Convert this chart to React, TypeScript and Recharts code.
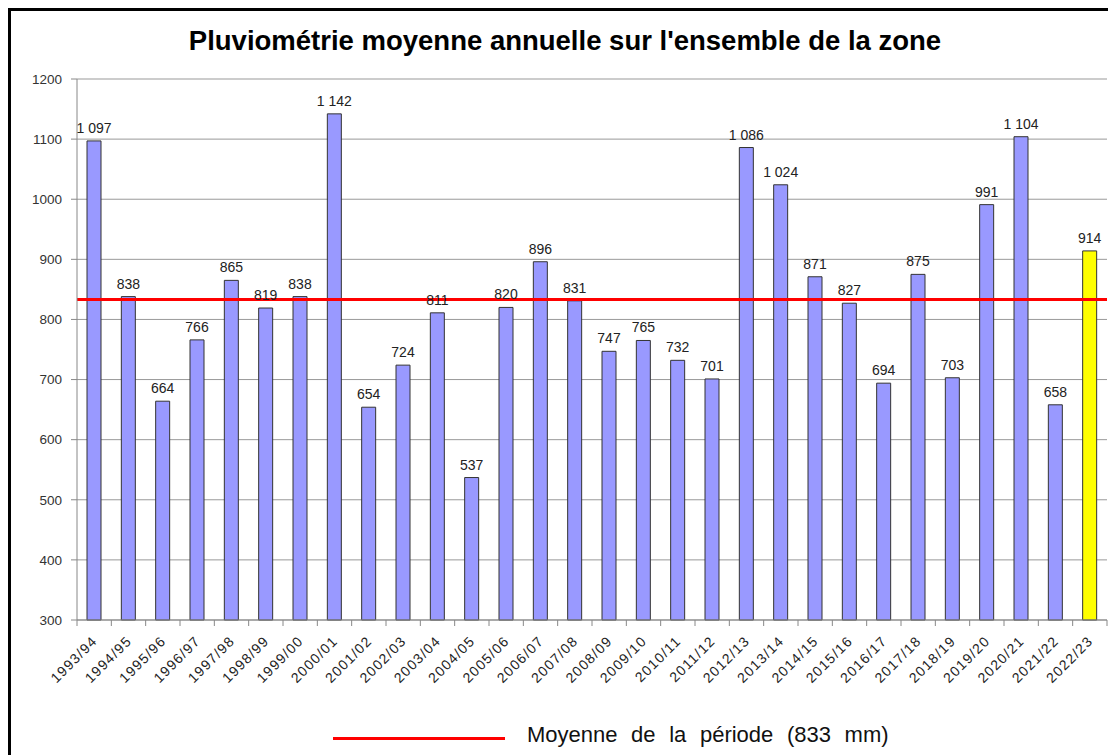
import { BarChart, Bar, XAxis, YAxis, CartesianGrid, ReferenceLine, LabelList, Cell } from "recharts";

const seasons = [
  "1993/94", "1994/95", "1995/96", "1996/97", "1997/98", "1998/99", "1999/00", "2000/01",
  "2001/02", "2002/03", "2003/04", "2004/05", "2005/06", "2006/07", "2007/08", "2008/09",
  "2009/10", "2010/11", "2011/12", "2012/13", "2013/14", "2014/15", "2015/16", "2016/17",
  "2017/18", "2018/19", "2019/20", "2020/21", "2021/22", "2022/23",
];

const rainfall = [
  1097, 838, 664, 766, 865, 819, 838, 1142, 654, 724, 811, 537, 820, 896, 831, 747,
  765, 732, 701, 1086, 1024, 871, 827, 694, 875, 703, 991, 1104, 658, 914,
];

const yTicks = [300, 400, 500, 600, 700, 800, 900, 1000, 1100, 1200];
const periodMean = 833;

const data = seasons.map((s, i) => ({ name: s, value: rainfall[i] }));

const FONT = "Arial, 'Liberation Sans', sans-serif";

// thousands separated by a non-breaking space so the label stays on one line
const fmt = (v: any) => {
  const n = Number(v);
  if (n >= 1000) return `${Math.floor(n / 1000)}\u00a0${String(n % 1000).padStart(3, "0")}`;
  return String(n);
};

const XTick = (props: any) => {
  const { x, y, payload, index } = props;
  const half = payload?.offset || 17;
  const tx = x + 4;
  const ty = y + 22;
  return (
    <g>
      <line x1={x - half} x2={x - half} y1={y} y2={y + 6} stroke="#888" />
      {index === seasons.length - 1 && (
        <line x1={x + half} x2={x + half} y1={y} y2={y + 6} stroke="#888" />
      )}
      <text
        x={tx}
        y={ty}
        transform={`rotate(-45, ${tx}, ${ty})`}
        textAnchor="end"
        fontSize={14}
        letterSpacing={1.2}
        fill="#222"
        fontFamily={FONT}
      >
        {payload.value}
      </text>
    </g>
  );
};

export default function App() {
  return (
    <div style={{ position: "relative", width: 1108, height: 747, overflow: "hidden", fontFamily: FONT }}>
      <div
        style={{
          position: "absolute",
          left: 0,
          top: 0,
          width: 1200,
          height: 800,
          border: "3px solid #000",
          boxSizing: "border-box",
        }}
      />
      <div
        style={{
          position: "absolute",
          left: 0,
          top: 19,
          width: 1114,
          textAlign: "center",
          fontSize: 27.5,
          lineHeight: "28px",
          fontWeight: "bold",
          color: "#000",
        }}
      >
        Pluviométrie moyenne annuelle sur l'ensemble de la zone
      </div>
      <div style={{ position: "absolute", left: 3, top: 3 }}>
        <BarChart
          width={1100}
          height={700}
          data={data}
          margin={{ top: 68, right: 4, left: 0, bottom: 11 }}
          barSize={14}
        >
          <CartesianGrid vertical={false} stroke="#999" />
          <XAxis
            dataKey="name"
            interval={0}
            height={80}
            tickLine={false}
            tickSize={0}
            tickMargin={0}
            axisLine={{ stroke: "#888" }}
            tick={<XTick />}
          />
          <YAxis
            domain={[300, 1200]}
            ticks={yTicks}
            width={66}
            tickSize={6}
            tickMargin={9}
            tickLine={{ stroke: "#888" }}
            axisLine={{ stroke: "#888" }}
            tick={{ fill: "#333", fontSize: 13.5, fontFamily: FONT }}
          />
          <YAxis
            yAxisId="right"
            orientation="right"
            domain={[300, 1200]}
            width={0}
            tick={false}
            tickLine={false}
            axisLine={{ stroke: "#ccc" }}
          />
          <Bar dataKey="value" stroke="#333" strokeWidth={1} isAnimationActive={false}>
            {data.map((d, i) => (
              <Cell key={d.name} fill={i === data.length - 1 ? "#ffff00" : "#9999ff"} />
            ))}
            <LabelList
              dataKey="value"
              position="top"
              offset={8}
              formatter={fmt}
              fill="#222"
              fontSize={14}
              fontFamily={FONT}
            />
          </Bar>
          <ReferenceLine y={periodMean} stroke="#ff0000" strokeWidth={3} />
        </BarChart>
      </div>
      <div
        style={{
          position: "absolute",
          left: 325,
          top: 729,
          width: 172,
          height: 3,
          background: "#ff0000",
        }}
      />
      <div
        style={{
          position: "absolute",
          left: 519,
          top: 716,
          fontSize: 22,
          lineHeight: "22px",
          wordSpacing: 7.5,
          color: "#111",
          whiteSpace: "nowrap",
        }}
      >
        Moyenne de la période ({periodMean} mm)
      </div>
    </div>
  );
}
